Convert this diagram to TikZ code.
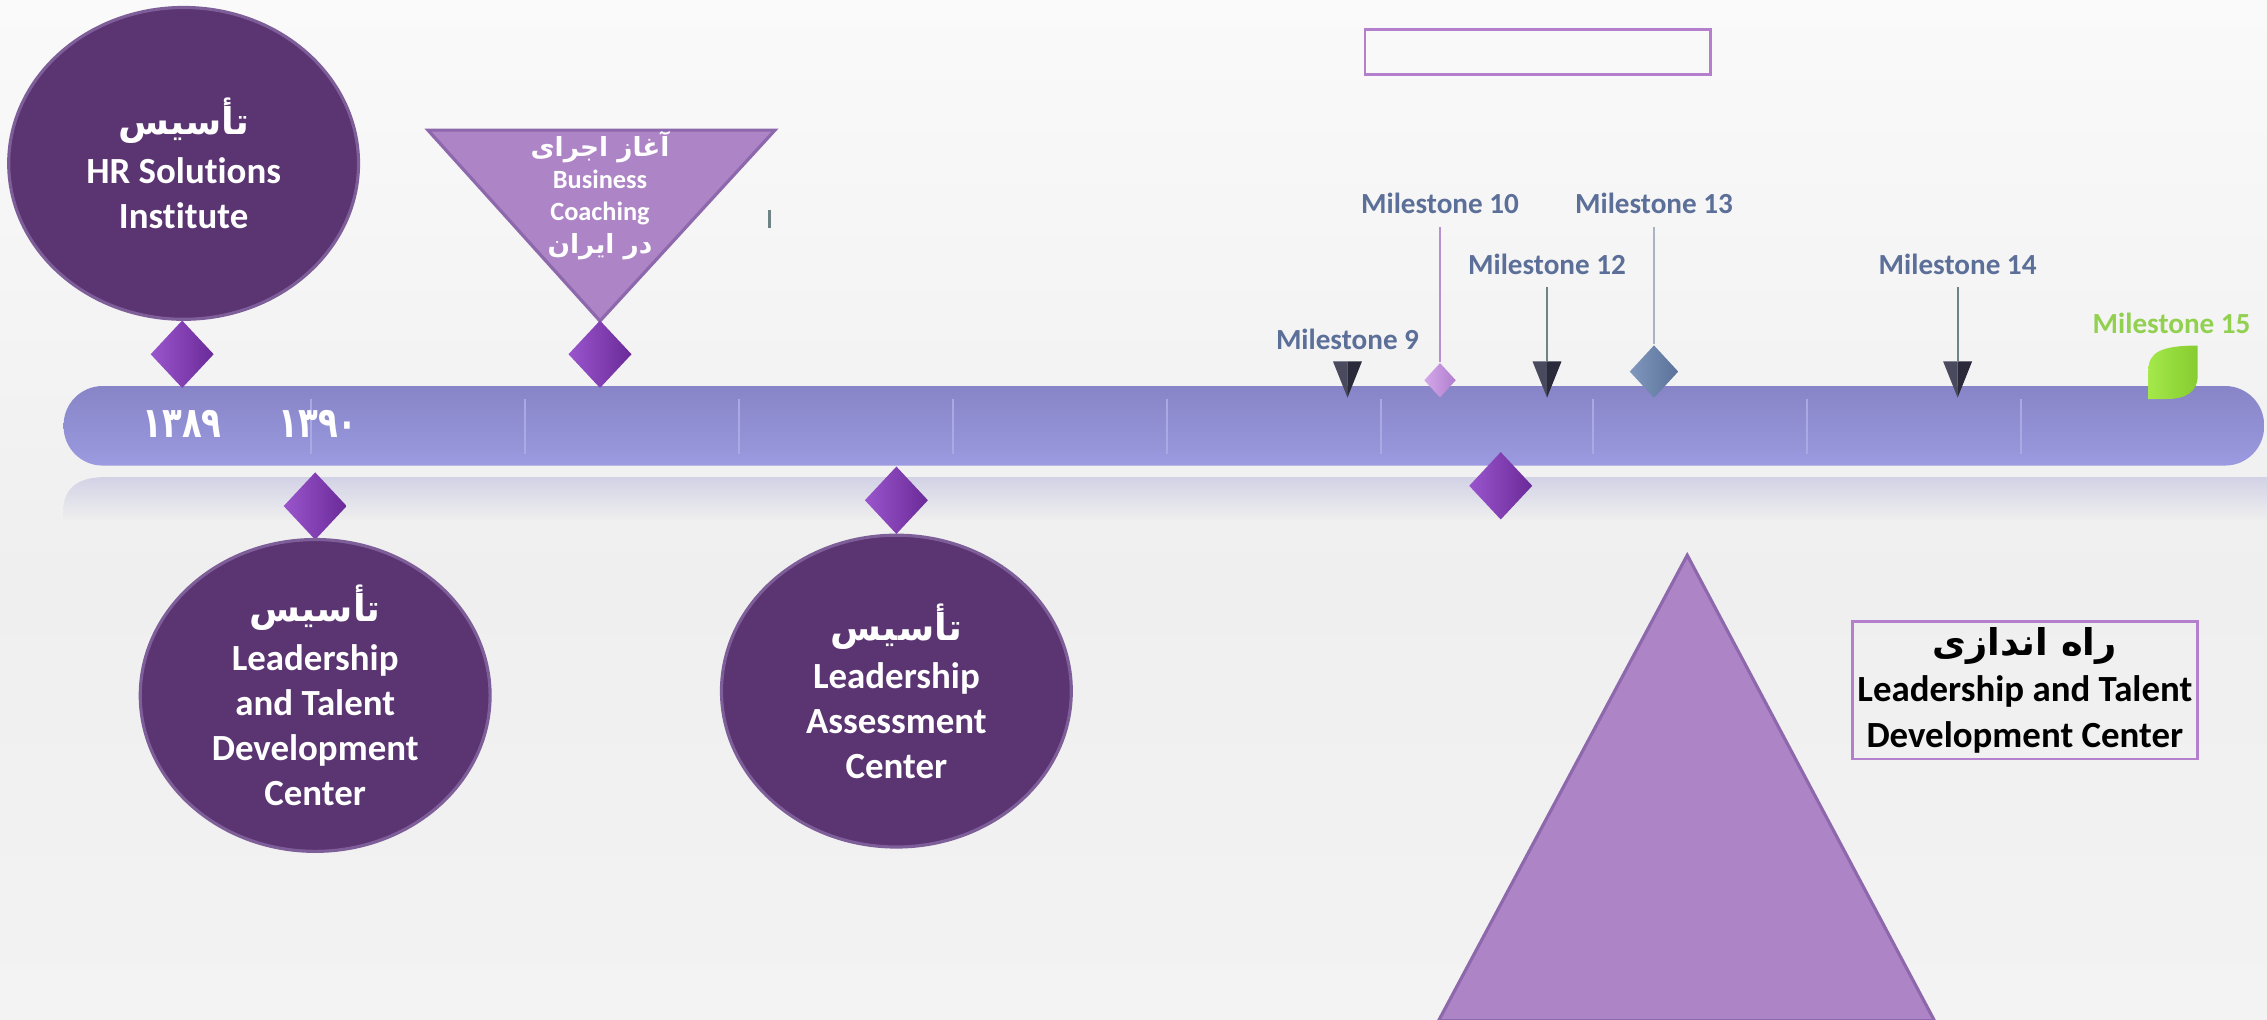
\documentclass[tikz,border=0pt]{standalone}
\usepackage{fontspec}
\usepackage{graphicx}
\setmainfont{Carlito}[Ligatures=NoCommon]
\TeXXeTstate=1
\newfontfamily\fa[Script=Arabic]{DejaVu Sans}
\usetikzlibrary{shapes.geometric}
\definecolor{bgtop}{HTML}{FAFAFA}
\definecolor{bgmid}{HTML}{EFEFEF}
\definecolor{bgbot}{HTML}{F3F3F3}
\definecolor{circfill}{HTML}{5B3472}
\definecolor{circedge}{HTML}{7E5E99}
\definecolor{trifill}{HTML}{AD84C6}
\definecolor{triedge}{HTML}{8E68AC}
\definecolor{diamL}{HTML}{9A55CC}
\definecolor{diamR}{HTML}{6A2A98}
\definecolor{bartop}{HTML}{8785C7}
\definecolor{barbot}{HTML}{9C9AE0}
\definecolor{divcol}{HTML}{ABA9E4}
\definecolor{reftop}{HTML}{D2D2E6}
\definecolor{msblue}{HTML}{5B6F99}
\definecolor{lineten}{HTML}{B591CF}
\definecolor{tenL}{HTML}{D4A8EA}
\definecolor{tenR}{HTML}{B07ECE}
\definecolor{linethirteen}{HTML}{A8B4C4}
\definecolor{thL}{HTML}{8098BD}
\definecolor{thR}{HTML}{5A7199}
\definecolor{grayline}{HTML}{6E8484}
\definecolor{dkL}{HTML}{4A4A5E}
\definecolor{dkR}{HTML}{2A2A3A}
\definecolor{leafL}{HTML}{A4E84A}
\definecolor{leafR}{HTML}{86CC30}
\definecolor{leaftext}{HTML}{92D050}
\definecolor{boxedge}{HTML}{B47FCC}
\newcommand\darkmark[1]{%
  \fill[dkL] (#1-10,250) -- (#1,250) -- (#1,275) -- cycle;
  \fill[dkR] (#1,250) -- (#1+10,250) -- (#1,275) -- cycle;}
\begin{document}
\begin{tikzpicture}[x=0.014458cm,y=-0.014458cm,
  darkcirc/.style={ellipse,draw=circedge,line width=0.9pt,fill=circfill,
    minimum width=3.5cm,minimum height=3.12cm,inner sep=0pt,text=white,
    align=center,font=\bfseries\fontsize{10.5}{12.8}\selectfont},
  pdiam/.style={diamond,inner sep=0pt,minimum width=0.636cm,minimum height=0.68cm,
    left color=diamL,right color=diamR},
  mslabel/.style={text=msblue,font=\bfseries\fontsize{8.3}{10}\selectfont},
  divline/.style={draw=divcol,line width=0.5pt},
  tritext/.style={text=white,align=center,font=\bfseries\fontsize{7.5}{9.2}\selectfont},
  yeartxt/.style={text=white,font=\fa\bfseries\fontsize{11.5}{12}\selectfont},
  outlinebox/.style={draw=boxedge,line width=0.8pt,inner sep=0pt}]
\useasboundingbox (0,0) rectangle (1568,705);
% background
\shade[top color=bgtop,bottom color=bgmid] (0,0) rectangle (1568,400);
\shade[top color=bgmid,bottom color=bgbot] (0,400) rectangle (1568,705);
% reflection
\shade[top color=reftop,bottom color=bgmid] (44,360) -- (44,352) .. controls (44,338) and (54,330) .. (72,330) -- (1568,330) -- (1568,360) -- cycle;
% bar
\shade[top color=bartop,bottom color=barbot,rounded corners=0.39cm] (44,267) rectangle (1566,322);
\foreach \xx in {215,363,511,659,807,955,1102,1250,1398}
  \draw[divline] (\xx,276) -- (\xx,314);
% years
\node[yeartxt] (y89) at (126,293) {\scalebox{0.8}[1.05]{۱۳۸۹}};
\node[yeartxt] (y90) at (220,293) {\scalebox{0.8}[1.05]{۱۳۹۰}};
% top left circle
\node[darkcirc] (c1) at (127,113) {{\fa تأسیس}\\[1pt] HR Solutions\\ Institute};
\node[pdiam] (p1) at (126,245) {};
% inverted triangle
\draw[fill=trifill,draw=triedge,line width=0.9pt] (296,90) -- (536,90) -- (415,222) -- cycle;
\node[tritext] (bc) at (415,135) {{\fa\beginR آغاز اجرای\endR}\\ Business\\ Coaching\\ {\fa\beginR در ایران\endR}};
\node[pdiam] (p2) at (415,245) {};
\draw[grayline,line width=0.8pt] (532,145) -- (532,158);
% below circles
\node[pdiam] (p3) at (218,350) {};
\node[darkcirc] (c2) at (218,481) {{\fa تأسیس}\\[1pt] Leadership\\ and Talent\\ Development\\ Center};
\node[pdiam] (p4) at (620,346) {};
\node[darkcirc] (c3) at (620,478) {{\fa تأسیس}\\[1pt] Leadership\\ Assessment\\ Center};
\node[pdiam] (p5) at (1038,336) {};
% big triangle
\draw[fill=trifill,draw=triedge,line width=0.9pt] (1167,384) -- (1338,706) -- (995,706) -- cycle;
% boxes
\node[outlinebox,minimum width=3.455cm,minimum height=0.448cm] (topbox) at (1063.5,36) {};
\node[outlinebox,minimum width=3.455cm,minimum height=1.373cm,align=center,
  font=\bfseries\fontsize{10.5}{13}\selectfont] (ltbox) at (1400.5,477.5)
  {{\fa\beginR راه اندازی\endR}\\ Leadership and Talent\\ Development Center};
% milestones
\node[mslabel] (m9) at (932,235) {Milestone 9};
\darkmark{932}
\node[mslabel] (m10) at (996,141) {Milestone 10};
\node[diamond,inner sep=0pt,minimum width=0.32cm,minimum height=0.35cm,left color=tenL,right color=tenR] (d10) at (996,263) {};
\draw[lineten,line width=0.6pt] (m10.south) -- (d10.north);
\node[mslabel] (m12) at (1070,183) {Milestone 12};
\coordinate (t12) at (1070,250);
\draw[grayline,line width=0.6pt] (m12.south) -- (t12);
\darkmark{1070}
\node[mslabel] (m13) at (1144,141) {Milestone 13};
\node[diamond,inner sep=0pt,minimum width=0.49cm,minimum height=0.53cm,left color=thL,right color=thR] (d13) at (1144,257) {};
\draw[linethirteen,line width=0.6pt] (m13.south) -- (d13.north);
\node[mslabel] (m14) at (1354,183) {Milestone 14};
\coordinate (t14) at (1354,250);
\draw[grayline,line width=0.6pt] (m14.south) -- (t14);
\darkmark{1354}
\node[mslabel,text=leaftext] (m15) at (1502,224) {Milestone 15};
\shade[left color=leafL,right color=leafR] (1486,276) -- (1486,256) .. controls (1486,244) and (1494,239) .. (1520,239) -- (1520,260) .. controls (1520,271) and (1512,276) .. (1498,276) -- cycle;
\end{tikzpicture}
\end{document}
